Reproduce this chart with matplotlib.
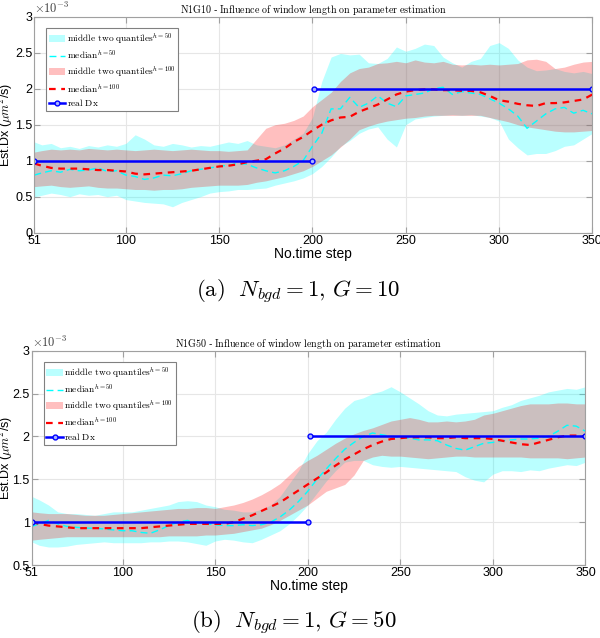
import matplotlib.pyplot as plt
import numpy as np

plt.rcParams["mathtext.fontset"] = "cm"
plt.rcParams["font.family"] = ["Liberation Sans", "DejaVu Sans"]

steps = [51] + list(range(55, 351, 5))

# ---- panel (a): N1G10, values in units of 1e-3 um^2/s ----
a_cyan_hi = [1.26, 1.22, 1.24, 1.18, 1.20, 1.17, 1.21, 1.19, 1.22, 1.20,
             1.24, 1.36, 1.30, 1.22, 1.20, 1.24, 1.22, 1.19, 1.21, 1.20,
             1.23, 1.26, 1.24, 1.28, 1.22, 1.20, 1.18, 1.22, 1.30, 1.38,
             1.60, 2.10, 2.44, 2.49, 2.47, 2.48, 2.36, 2.35, 2.42, 2.58,
             2.52, 2.56, 2.62, 2.60, 2.44, 2.36, 2.30, 2.38, 2.42, 2.60,
             2.64, 2.56, 2.40, 2.30, 2.25, 2.26, 2.28, 2.24, 2.22, 2.24, 2.21]
a_cyan_lo = [0.50, 0.52, 0.55, 0.53, 0.50, 0.54, 0.52, 0.53, 0.50, 0.52,
             0.46, 0.44, 0.42, 0.41, 0.40, 0.36, 0.42, 0.46, 0.50, 0.55,
             0.57, 0.58, 0.60, 0.60, 0.61, 0.62, 0.66, 0.69, 0.72, 0.76,
             0.82, 0.92, 1.05, 1.20, 1.28, 1.38, 1.44, 1.47, 1.30, 1.19,
             1.50, 1.58, 1.60, 1.62, 1.63, 1.64, 1.63, 1.64, 1.62, 1.60,
             1.55, 1.30, 1.18, 1.08, 1.10, 1.10, 1.14, 1.20, 1.22, 1.30, 1.38]
a_cyan_med = [0.80, 0.83, 0.86, 0.84, 0.88, 0.86, 0.87, 0.90, 0.85, 0.86,
              0.80, 0.78, 0.74, 0.76, 0.80, 0.79, 0.82, 0.86, 0.88, 0.90,
              0.92, 0.94, 0.96, 0.95, 0.90, 0.86, 0.83, 0.86, 0.92, 1.00,
              1.20, 1.38, 1.72, 1.72, 1.88, 1.74, 1.80, 1.90, 1.80, 1.75,
              1.90, 1.92, 1.94, 2.00, 2.02, 1.92, 1.96, 1.94, 1.92, 1.86,
              1.80, 1.72, 1.62, 1.45, 1.55, 1.65, 1.72, 1.74, 1.66, 1.70, 1.65]
a_red_hi = [1.12, 1.14, 1.16, 1.15, 1.16, 1.15, 1.17, 1.16, 1.15, 1.16,
            1.15, 1.14, 1.15, 1.16, 1.15, 1.14, 1.15, 1.16, 1.15, 1.14,
            1.14, 1.13, 1.14, 1.15, 1.30, 1.45, 1.50, 1.52, 1.56, 1.62,
            1.75, 1.85, 1.95, 2.10, 2.22, 2.28, 2.30, 2.35, 2.36, 2.38,
            2.36, 2.40, 2.37, 2.36, 2.38, 2.34, 2.33, 2.34, 2.33, 2.34,
            2.33, 2.34, 2.35, 2.40, 2.41, 2.38, 2.28, 2.30, 2.34, 2.37, 2.38]
a_red_lo = [0.64, 0.65, 0.66, 0.64, 0.63, 0.64, 0.65, 0.63, 0.62, 0.62,
            0.61, 0.60, 0.60, 0.59, 0.60, 0.60, 0.61, 0.63, 0.64, 0.65,
            0.66, 0.66, 0.66, 0.67, 0.70, 0.72, 0.75, 0.78, 0.82, 0.86,
            0.92, 1.00, 1.08, 1.19, 1.30, 1.43, 1.48, 1.52, 1.55, 1.57,
            1.59, 1.60, 1.62, 1.63, 1.63, 1.63, 1.63, 1.63, 1.63, 1.60,
            1.57, 1.54, 1.50, 1.47, 1.45, 1.43, 1.41, 1.40, 1.40, 1.41, 1.42]
a_red_med = [0.96, 0.93, 0.90, 0.89, 0.89, 0.89, 0.88, 0.87, 0.87, 0.86,
             0.85, 0.82, 0.81, 0.82, 0.83, 0.84, 0.85, 0.86, 0.88, 0.90,
             0.92, 0.93, 0.95, 0.98, 1.00, 1.02, 1.10, 1.17, 1.26, 1.33,
             1.42, 1.50, 1.56, 1.60, 1.61, 1.68, 1.73, 1.78, 1.85, 1.92,
             1.96, 1.98, 1.99, 1.99, 1.98, 1.98, 1.97, 1.97, 1.95, 1.90,
             1.84, 1.82, 1.79, 1.77, 1.76, 1.80, 1.80, 1.81, 1.83, 1.85, 1.92]

# ---- panel (b): N1G50 ----
b_cyan_hi = [1.30, 1.26, 1.20, 1.12, 1.10, 1.10, 1.09, 1.08, 1.10, 1.12,
             1.12, 1.12, 1.14, 1.16, 1.18, 1.20, 1.24, 1.25, 1.24, 1.20,
             1.18, 1.15, 1.14, 1.12, 1.12, 1.15, 1.20, 1.30, 1.45, 1.60,
             1.80, 1.95, 2.05, 2.20, 2.33, 2.42, 2.45, 2.50, 2.53, 2.58,
             2.52, 2.45, 2.38, 2.30, 2.25, 2.24, 2.26, 2.27, 2.28, 2.29,
             2.30, 2.34, 2.37, 2.42, 2.45, 2.48, 2.52, 2.54, 2.56, 2.55, 2.58]
b_cyan_lo = [0.77, 0.73, 0.71, 0.71, 0.72, 0.74, 0.75, 0.76, 0.77, 0.76,
             0.76, 0.76, 0.76, 0.77, 0.77, 0.78, 0.78, 0.77, 0.75, 0.73,
             0.78, 0.80, 0.79, 0.77, 0.76, 0.80, 0.85, 0.90, 0.98, 1.08,
             1.20, 1.34, 1.48, 1.60, 1.70, 1.72, 1.72, 1.67, 1.65, 1.64,
             1.65, 1.64, 1.63, 1.62, 1.61, 1.60, 1.59, 1.53, 1.49, 1.47,
             1.56, 1.60, 1.60, 1.59, 1.61, 1.60, 1.63, 1.65, 1.67, 1.66, 1.70]
b_cyan_med = [0.95, 0.98, 1.02, 0.98, 0.95, 0.94, 0.93, 0.93, 0.92, 0.91,
              0.90, 0.90, 0.88, 0.87, 0.91, 0.96, 1.00, 1.02, 1.00, 0.98,
              0.97, 0.96, 0.96, 0.97, 0.96, 0.97, 1.00, 1.06, 1.14, 1.24,
              1.36, 1.50, 1.62, 1.74, 1.85, 1.93, 2.00, 2.04, 2.02, 2.00,
              1.99, 1.98, 1.96, 1.96, 1.95, 1.90, 1.86, 1.84, 1.88, 1.92,
              1.93, 1.95, 1.96, 1.97, 1.97, 1.98, 2.00, 2.06, 2.13, 2.12, 2.06]
b_red_hi = [1.12, 1.11, 1.10, 1.10, 1.10, 1.09, 1.08, 1.08, 1.08, 1.09,
            1.10, 1.11, 1.12, 1.13, 1.14, 1.15, 1.16, 1.16, 1.17, 1.17,
            1.16, 1.18, 1.20, 1.23, 1.27, 1.32, 1.38, 1.45, 1.55, 1.65,
            1.72, 1.78, 1.85, 1.92, 1.98, 2.03, 2.07, 2.10, 2.14, 2.18,
            2.20, 2.22, 2.20, 2.17, 2.17, 2.18, 2.17, 2.18, 2.20, 2.25,
            2.27, 2.30, 2.33, 2.36, 2.38, 2.38, 2.38, 2.39, 2.39, 2.38, 2.38]
b_red_lo = [0.79, 0.80, 0.81, 0.82, 0.83, 0.83, 0.83, 0.83, 0.83, 0.83,
            0.83, 0.83, 0.83, 0.83, 0.83, 0.84, 0.84, 0.84, 0.84, 0.85,
            0.85, 0.86, 0.87, 0.89, 0.91, 0.93, 0.97, 1.02, 1.08, 1.14,
            1.20, 1.28, 1.36, 1.40, 1.44, 1.55, 1.72, 1.76, 1.78, 1.77,
            1.77, 1.76, 1.75, 1.74, 1.75, 1.76, 1.77, 1.77, 1.76, 1.76,
            1.76, 1.76, 1.76, 1.76, 1.75, 1.75, 1.75, 1.75, 1.74, 1.75, 1.76]
b_red_med = [1.00, 0.98, 0.96, 0.95, 0.94, 0.93, 0.93, 0.93, 0.93, 0.93,
             0.93, 0.93, 0.93, 0.94, 0.95, 0.96, 0.97, 0.98, 0.98, 0.98,
             0.98, 0.98, 1.00, 1.04, 1.08, 1.13, 1.18, 1.23, 1.30, 1.37,
             1.44, 1.51, 1.58, 1.66, 1.73, 1.79, 1.85, 1.90, 1.94, 1.97,
             1.98, 1.99, 1.99, 1.99, 1.98, 1.98, 1.99, 1.98, 1.98, 1.98,
             1.97, 1.95, 1.93, 1.91, 1.90, 1.93, 1.96, 1.99, 2.01, 2.01, 2.00]

# true diffusion coefficient (two regimes)
real_x = [[51, 200], [201, 350]]
real_dx = [[1.0, 1.0], [2.0, 2.0]]

xticks = [51, 100, 150, 200, 250, 300, 350]


def mrm(s):
    # plain words in computer-modern roman via mathtext
    return r"$\mathrm{" + s.replace(" ", r"\ ") + "}$"


def draw_panel(ax, name, c_lo, c_hi, c_med, r_lo, r_hi, r_med, ylim, yticks, ylab_x):
    ax.fill_between(steps, c_lo, c_hi, color=(0, 1, 1), alpha=0.27, lw=0,
                    label=r"$\mathrm{middle\ two\ quantiles}^{h=50}$")
    ax.plot(steps, c_med, color=(0, 1, 1), ls=(0, (5, 3)), lw=1.0,
            label=r"$\mathrm{median}^{h=50}$")
    ax.fill_between(steps, r_lo, r_hi, color=(1, 0, 0), alpha=0.25, lw=0,
                    label=r"$\mathrm{middle\ two\ quantiles}^{h=100}$")
    ax.plot(steps, r_med, color="red", ls=(0, (3, 2.5)), lw=1.6,
            label=r"$\mathrm{median}^{h=100}$")
    for i, (xs, ys) in enumerate(zip(real_x, real_dx)):
        ax.plot(xs, ys, color="blue", lw=1.8, marker="o", ms=3.5,
                mfc="#aab4ff", mec="blue", mew=1.0,
                label=r"$\mathrm{real\ Dx}$" if i == 0 else None)

    ax.set_xlim(51, 350)
    ax.set_ylim(*ylim)
    ax.set_xticks(xticks)
    ax.set_yticks(yticks)
    ax.set_yticklabels([f"{v:g}" for v in yticks])
    ax.grid(True, color="#e6e6e6", lw=0.8)
    ax.set_axisbelow(True)
    for sp in ax.spines.values():
        sp.set_color("#a0a0a0")
        sp.set_linewidth(0.8)
    ax.tick_params(direction="in", length=4, color="#a0a0a0",
                   labelsize=9, top=True, right=True, pad=1.5)
    ax.set_title(mrm(name) + " - " + mrm("Influence of window length on parameter estimation"),
                 fontsize=7.2, pad=3)
    ax.set_xlabel("No.time step", fontsize=10, labelpad=0)
    ax.set_ylabel(r"Est.Dx ($\mu m^2$/s)", fontsize=9)
    ax.yaxis.set_label_coords(ylab_x, 0.5)
    ax.text(0.0, 1.005, r"$\times\mathsf{10^{-3}}$", transform=ax.transAxes,
            fontsize=9, ha="left", va="bottom", color="#404040")
    leg = ax.legend(loc="upper left", bbox_to_anchor=(0.018, 0.955),
                    fontsize=6.8, handlelength=1.7, handletextpad=0.15,
                    borderpad=0.3, labelspacing=0.3, fancybox=False,
                    framealpha=1, borderaxespad=0.2)
    leg.get_frame().set_edgecolor("#808080")
    leg.get_frame().set_linewidth(0.8)


fig = plt.figure(figsize=(6.0, 6.38), dpi=100)
ax_a = fig.add_axes([0.0573, 0.6353, 0.93, 0.3385])
ax_b = fig.add_axes([0.053, 0.1144, 0.9228, 0.3359])

draw_panel(ax_a, "N1G10", a_cyan_lo, a_cyan_hi, a_cyan_med,
           a_red_lo, a_red_hi, a_red_med,
           (0, 3), [0, 0.5, 1, 1.5, 2, 2.5, 3], -0.035)
draw_panel(ax_b, "N1G50", b_cyan_lo, b_cyan_hi, b_cyan_med,
           b_red_lo, b_red_hi, b_red_med,
           (0.5, 3), [0.5, 1, 1.5, 2, 2.5, 3], -0.031)

fig.text(0.497, 0.542, r"$\mathrm{(a)}\ \ N_{bgd} = 1,\, G = 10$",
         ha="center", va="center", fontsize=16.5)
fig.text(0.49, 0.024, r"$\mathrm{(b)}\ \ N_{bgd} = 1,\, G = 50$",
         ha="center", va="center", fontsize=16.5)

fig.savefig("out.png", dpi=100)
